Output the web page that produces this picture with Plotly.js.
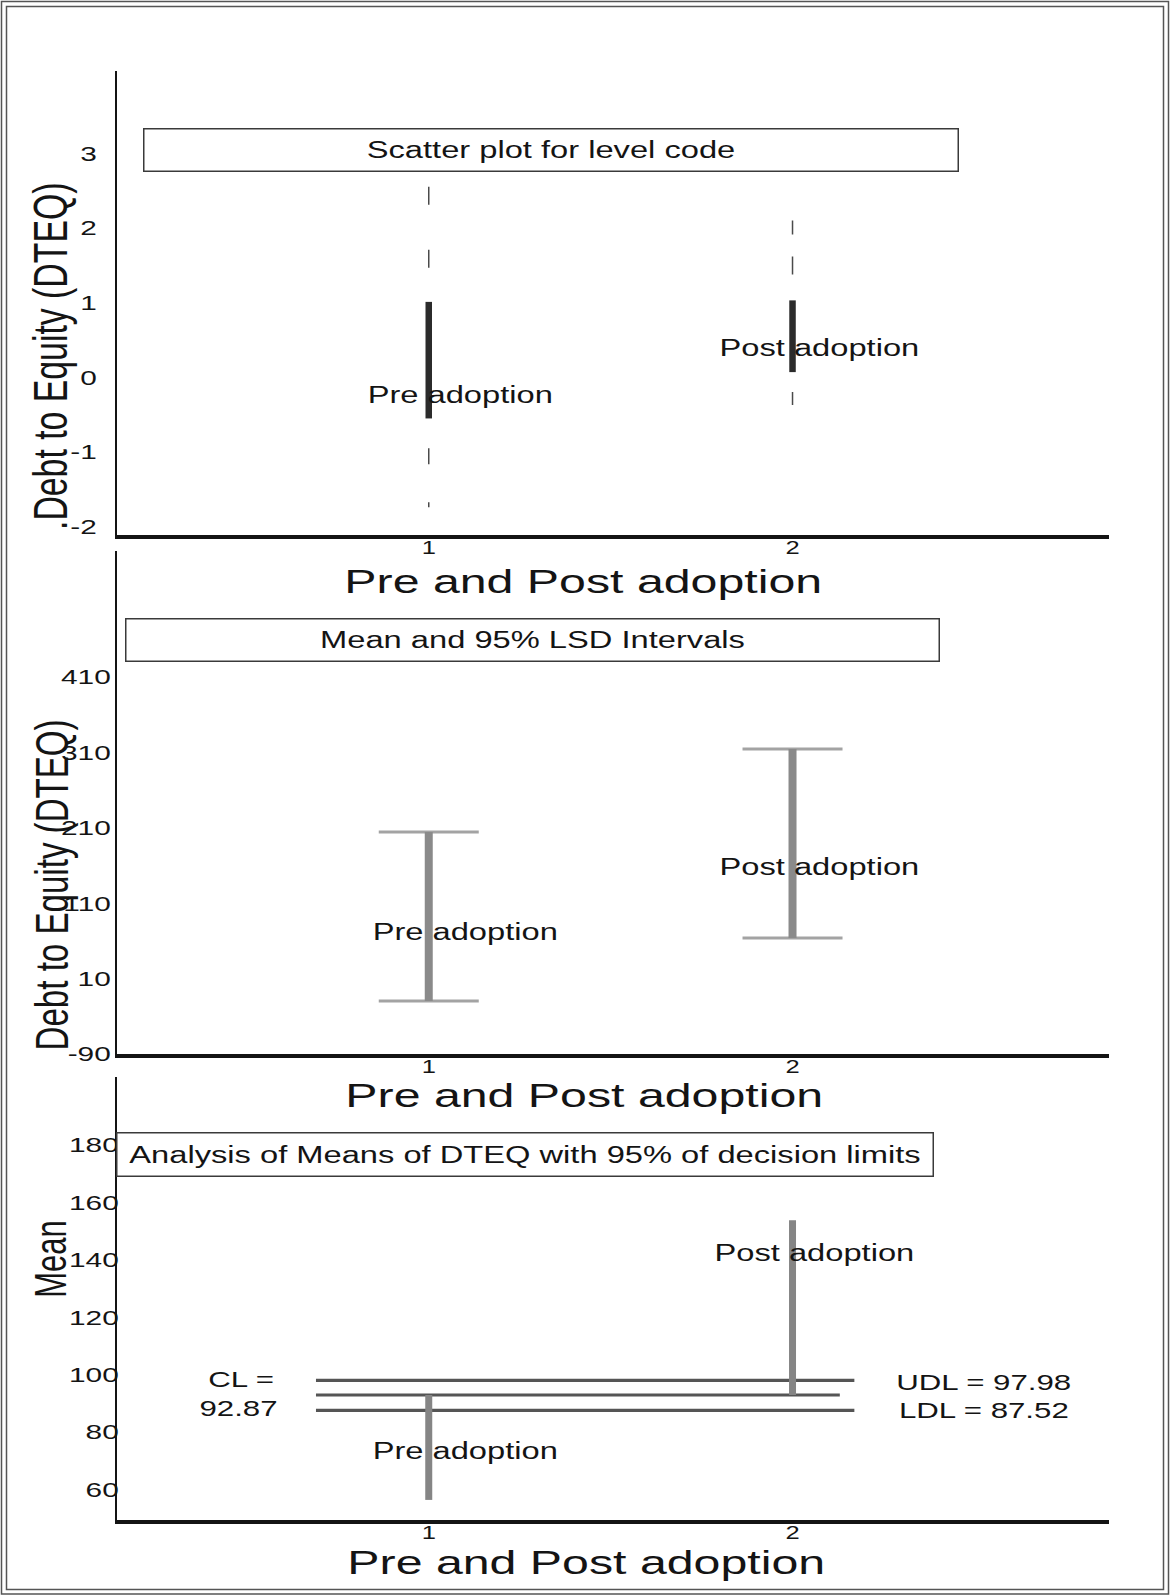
<!DOCTYPE html>
<html>
<head>
<meta charset="utf-8">
<script src="https://cdn.plot.ly/plotly-3.0.1.min.js"></script>
<style>
  html, body { margin: 0; padding: 0; background: #fff; }
  #chart { width: 1170px; height: 1596px; }
</style>
</head>
<body>
<div id="chart"></div>
<script>
// DTEQ before / after adoption: level-code scatter, LSD intervals and ANOM, stacked like the scanned figure
const GROUPS = [1, 2];
const GROUP_LABELS = ['Pre adoption', 'Post adoption'];

// panel 1 - scatter plot for level code (dashed spread + solid core)
const SCATTER_TOP = [2.55, 2.10];
const SCATTER_HI = [1.01, 1.03];
const SCATTER_LO = [-0.55, 0.07];
const SCATTER_BOTTOM = [-1.74, -0.37];

// panel 2 - mean and 95% LSD intervals
const LSD_LOW = [-19.7, 63.8];
const LSD_HIGH = [204.4, 314.5];

// panel 3 - analysis of means with 95% decision limits
const GROUP_MEANS = [56.3, 153.8];
const CL = 92.87;
const UDL = 97.98;
const LDL = 87.52;

const Y_TICKS_1 = [-2, -1, 0, 1, 2, 3];
const Y_TICKS_2 = [-90, 10, 110, 210, 310, 410];
const Y_TICKS_3 = [60, 80, 100, 120, 140, 160, 180];
const X_TICKS = [1, 2];

const W = 1170, H = 1596;
const FONT = 'Liberation Sans, Arial, sans-serif';
const INK = '#141414';
const STRETCH = 1.42; // the scan is widened horizontally, text included

const px = x => x / W;
const py = y => 1 - y / H;

function seg(x, y0, y1, xa, ya, line){
  return {type: 'scatter', mode: 'lines', x: [x, x], y: [y0, y1], xaxis: xa, yaxis: ya,
    line: line, hoverinfo: 'skip', showlegend: false};
}

const traces = [];

// panel 1
const UPPER_DASH = ['18px,45px', '14px,22px,18px,300px'];
const LOWER_DASH = ['5px,38px,16px,300px', '13px,300px'];
GROUPS.forEach((g, i) => {
  traces.push(seg(g, SCATTER_TOP[i], SCATTER_HI[i], 'x', 'y', {color: '#4a4a4a', width: 1.5, dash: UPPER_DASH[i]}));
  traces.push(seg(g, SCATTER_BOTTOM[i], SCATTER_LO[i], 'x', 'y', {color: '#4a4a4a', width: 1.5, dash: LOWER_DASH[i]}));
  traces.push(seg(g, SCATTER_LO[i], SCATTER_HI[i], 'x', 'y', {color: '#2b2b2b', width: 6.5}));
});

// panel 2 - caps through error bars, thick bar on top
const lsdMid = LSD_LOW.map((lo, i) => (lo + LSD_HIGH[i]) / 2);
traces.push({
  type: 'scatter', mode: 'markers', x: GROUPS, y: lsdMid, xaxis: 'x2', yaxis: 'y2',
  marker: {size: 1, color: 'rgba(0,0,0,0)'},
  error_y: {type: 'data', symmetric: false,
    array: LSD_HIGH.map((h, i) => h - lsdMid[i]),
    arrayminus: lsdMid.map((m, i) => m - LSD_LOW[i]),
    color: '#a3a3a3', thickness: 3, width: 50},
  hoverinfo: 'skip', showlegend: false
});
GROUPS.forEach((g, i) => {
  traces.push(seg(g, LSD_LOW[i], LSD_HIGH[i], 'x2', 'y2', {color: '#8a8a8a', width: 8}));
});

// panel 3 - limits and the bars from CL to each mean
traces.push({type: 'scatter', mode: 'lines', x: [0.69, 2.17], y: [UDL, UDL], xaxis: 'x3', yaxis: 'y3',
  line: {color: '#555', width: 3.2}, hoverinfo: 'skip', showlegend: false});
traces.push({type: 'scatter', mode: 'lines', x: [0.69, 2.13], y: [CL, CL], xaxis: 'x3', yaxis: 'y3',
  line: {color: '#555', width: 3.2}, hoverinfo: 'skip', showlegend: false});
traces.push({type: 'scatter', mode: 'lines', x: [0.69, 2.17], y: [LDL, LDL], xaxis: 'x3', yaxis: 'y3',
  line: {color: '#555', width: 3.2}, hoverinfo: 'skip', showlegend: false});
GROUPS.forEach((g, i) => {
  traces.push(seg(g, CL, GROUP_MEANS[i], 'x3', 'y3', {color: '#858585', width: 7}));
});

// axes
function xAxis(anchor){
  return {anchor: anchor, domain: [px(117), px(1109)], range: [0.143, 2.87],
    tickvals: X_TICKS, ticktext: X_TICKS.map(String),
    showline: true, linecolor: INK, linewidth: 3.5, ticks: '', showgrid: false, zeroline: false,
    ticklabelstandoff: -6, tickfont: {family: FONT, size: 18, color: INK}, fixedrange: true};
}
function yAxis(anchor, top, bottom, range, ticks, standoff){
  return {anchor: anchor, domain: [py(bottom), py(top)], range: range,
    tickvals: ticks, ticktext: ticks.map(String),
    showline: true, linecolor: INK, linewidth: 2, ticks: '', showgrid: false, zeroline: false,
    ticklabelstandoff: standoff, tickfont: {family: FONT, size: 21, color: INK}, fixedrange: true};
}

function note(text, x, y, size, opts){
  return Object.assign({text: text, x: x, y: y, xref: 'paper', yref: 'paper',
    xanchor: 'center', yanchor: 'middle', showarrow: false,
    font: {family: FONT, size: size, color: INK}}, opts || {});
}
function box(text, cx, cy, w, h){
  return note(text, px(cx), py(cy), 23, {width: w, height: h, bgcolor: '#ffffff',
    bordercolor: '#3a3a3a', borderwidth: 1.5, borderpad: 0});
}
function dataNote(text, x, y, xa, ya){
  return note(text, x, y, 23, {xref: xa, yref: ya});
}

const annotations = [
  // panel 1
  box('Scatter plot for level code', 551, 150, 813, 41),
  dataNote(GROUP_LABELS[0], 1.087, -0.24, 'x', 'y'),
  dataNote(GROUP_LABELS[1], 2.073, 0.39, 'x', 'y'),
  note('.Debt to Equity (DTEQ)', px(50), py(357), 48, {textangle: -90}),
  note('Pre and Post adoption', px(583), py(581), 34),
  // panel 2
  box('Mean and 95% LSD Intervals', 532, 640, 812, 41),
  dataNote(GROUP_LABELS[0], 1.10, 71.8, 'x2', 'y2'),
  dataNote(GROUP_LABELS[1], 2.073, 158, 'x2', 'y2'),
  note('Debt to Equity (DTEQ)', px(51), py(885), 47, {textangle: -90}),
  note('Pre and Post adoption', px(584), py(1095), 34),
  // panel 3
  box('Analysis of Means of DTEQ with 95% of decision limits', 525, 1154, 815, 42),
  dataNote(GROUP_LABELS[1], 2.06, 142.3, 'x3', 'y3'),
  dataNote(GROUP_LABELS[0], 1.10, 73.4, 'x3', 'y3'),
  note('CL =', 0.484, 98.4, 22, {xref: 'x3', yref: 'y3'}),
  note(CL.toFixed(2), 0.478, 88.3, 22, {xref: 'x3', yref: 'y3'}),
  note('UDL = ' + UDL.toFixed(2), 2.526, 97.3, 22, {xref: 'x3', yref: 'y3'}),
  note('LDL = ' + LDL.toFixed(2), 2.526, 87.6, 22, {xref: 'x3', yref: 'y3'}),
  note('Mean', px(50), py(1259), 44, {textangle: -90}),
  note('Pre and Post adoption', px(586), py(1562), 34)
];

// double frame round the scanned page
const shapes = [
  {type: 'rect', xref: 'paper', yref: 'paper', x0: px(1.5), x1: px(1168.5), y0: py(1594), y1: py(1.5),
    line: {color: '#555', width: 1.5}},
  {type: 'rect', xref: 'paper', yref: 'paper', x0: px(6.5), x1: px(1163.5), y0: py(1589.5), y1: py(6.5),
    line: {color: '#555', width: 1.5}}
];

const layout = {
  width: W, height: H, autosize: false,
  margin: {l: 0, r: 0, t: 0, b: 0},
  paper_bgcolor: '#ffffff', plot_bgcolor: '#ffffff',
  font: {family: FONT, color: INK},
  showlegend: false,
  xaxis: xAxis('y'),
  yaxis: yAxis('x', 71, 535, [-2.11, 4.1], Y_TICKS_1, 14),
  xaxis2: xAxis('y2'),
  yaxis2: yAxis('x2', 551, 1054, [-90, 577], Y_TICKS_2, 0),
  xaxis3: xAxis('y3'),
  yaxis3: yAxis('x3', 1077, 1520, [49.3, 203.7], Y_TICKS_3, -8),
  annotations: annotations,
  shapes: shapes
};

// widen every horizontal text the way the scan is widened;
// rotated titles are set large and squeezed along their length instead
function widenText(gd){
  gd.querySelectorAll('svg text').forEach(t => {
    const m = t.getCTM();
    if (!m) return;
    const len = t.getComputedTextLength();
    if (!len) return;
    const rotated = Math.abs(m.b) > 0.5;
    t.setAttribute('textLength', (rotated ? len / STRETCH : len * STRETCH).toFixed(1));
    t.setAttribute('lengthAdjust', 'spacingAndGlyphs');
  });
}

Plotly.newPlot('chart', traces, layout, {displayModeBar: false, staticPlot: true})
  .then(widenText);
</script>
</body>
</html>
